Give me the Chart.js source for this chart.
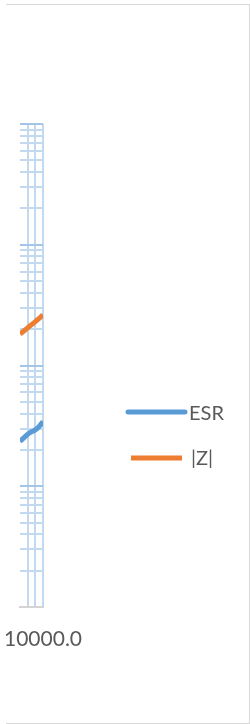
<!DOCTYPE html>
<html><head><meta charset="utf-8">
<script src="https://cdn.jsdelivr.net/npm/chart.js@4"></script>
<style>
html,body{margin:0;padding:0;background:#fff;}
#wrap{position:relative;width:250px;height:724px;overflow:hidden;}
#frame{position:absolute;left:6px;top:4px;width:243px;height:718px;border-top:1px solid #d9d9d9;border-right:1px solid #d9d9d9;border-bottom:1px solid #d9d9d9;}
canvas{position:absolute;left:0;top:0;}
</style></head>
<body><div id="wrap"><div id="frame"></div><canvas id="c" width="250" height="724"></canvas></div>
<script>
const seriesNames = ['ESR', '|Z|'];
const esrX = [10, 136, 883, 2700, 10000];
const esrY = [0.0235, 0.0274, 0.0292, 0.0310, 0.0343];
const zX = [10, 100, 1000, 10000];
const zY = [0.182, 0.205, 0.231, 0.262];
const xTickValues = [10, 100, 1000, 10000];
const xTickLabels = ['', '', '', '10000.0'];
const yDecades = [0.001, 0.01, 0.1, 1, 10];
const seriesColors = ['#5b9bd5', '#ed7d31'];

const MAJOR = '#a2c5e8', MINOR = '#c2d9f0', TEXT = '#595959';
const FONT = 'Lato, "Open Sans", sans-serif';

function isDecade(v){ const l = Math.log10(v); return Math.abs(l - Math.round(l)) < 1e-6; }

const legendPlugin = {
  id: 'sideLegend',
  afterDraw(chart){
    const ctx = chart.ctx;
    const items = [
      {x1:128, x2:185, y:412, tx:189, ty:419.5, cap:'round', w:5},
      {x1:131, x2:182, y:458, tx:191, ty:465, cap:'butt', w:5}
    ];
    ctx.save();
    chart.data.datasets.forEach((ds, i) => {
      const it = items[i];
      ctx.strokeStyle = ds.borderColor;
      ctx.lineWidth = it.w;
      ctx.lineCap = it.cap;
      ctx.beginPath(); ctx.moveTo(it.x1, it.y); ctx.lineTo(it.x2, it.y); ctx.stroke();
      ctx.fillStyle = TEXT;
      ctx.font = '20px ' + FONT;
      ctx.textBaseline = 'alphabetic';
      ctx.textAlign = 'left';
      ctx.fillText(ds.label, it.tx, it.ty);
    });
    ctx.restore();
  }
};

new Chart(document.getElementById('c'), {
  type: 'line',
  data: {
    datasets: [
      { label: seriesNames[0], data: esrX.map((x,i)=>({x, y: esrY[i]})), borderColor: seriesColors[0],
        borderWidth: 5, pointRadius: 0, tension: 0.3, fill: false },
      { label: seriesNames[1], data: zX.map((x,i)=>({x, y: zY[i]})), borderColor: seriesColors[1],
        borderWidth: 5, pointRadius: 0, tension: 0.3, fill: false }
    ]
  },
  options: {
    responsive: false, animation: false, devicePixelRatio: 1,
    layout: { padding: { top: 124, left: 6, right: 207, bottom: 0 } },
    plugins: { legend: { display: false }, tooltip: { enabled: false } },
    scales: {
      x: {
        type: 'logarithmic', min: xTickValues[0], max: xTickValues[xTickValues.length-1],
        afterBuildTicks: s => { s.ticks = xTickValues.map(v => ({value: v})); },
        afterFit: s => { s.height = 117; },
        ticks: { autoSkip: false, maxRotation: 0, minRotation: 0, padding: 20, color: TEXT,
                 font: { size: 21, family: FONT }, callback: (v, i) => xTickLabels[i] },
        grid: { drawTicks: false, lineWidth: 2,
                color: c => (c.tick && c.tick.value === xTickValues[0]) ? 'rgba(0,0,0,0)' : MINOR },
        border: { display: true, color: '#d4d4d4', width: 2 }
      },
      y: {
        type: 'logarithmic', min: yDecades[0], max: yDecades[yDecades.length-1],
        afterBuildTicks: s => {
          const t = [];
          for (let d = 0; d < yDecades.length - 1; d++) {
            for (let k = 1; k <= 9; k++) t.push({value: yDecades[d] * k});
          }
          t.push({value: yDecades[yDecades.length-1]});
          s.ticks = t;
        },
        afterFit: s => { s.width = 0; },
        ticks: { display: false },
        grid: { drawTicks: false, lineWidth: 2,
                color: c => (c.tick && isDecade(c.tick.value)) ? MAJOR : MINOR },
        border: { display: false }
      }
    }
  },
  plugins: [legendPlugin]
});
</script>
</body></html>
